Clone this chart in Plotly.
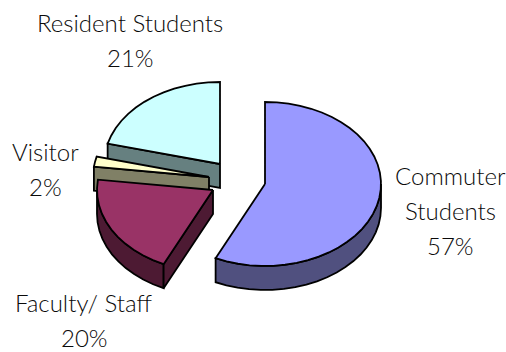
import numpy as np
import plotly.graph_objects as go

# Campus parking share by user group
categories = [["Commuter", "Students"], ["Faculty/ Staff"], ["Visitor"], ["Resident Students"]]
shares = [57, 20, 2, 21]
top_colors = ["#9999FF", "#993366", "#FFFFCC", "#CCFFFF"]
side_colors = ["#50507F", "#4D1A33", "#808066", "#668080"]

# Pixel layout of the exploded slices: apex of each top face, ellipse radii, extrusion depth
apexes = [(265, 184), (213, 190), (209, 177), (220, 164)]
label_anchors = [(450, 175), (84, 302), (45, 151), (130, 22)]
LINE_STEP = 35
RX, RY, DEPTH = 116, 82, 24
OUTLINE = dict(color="black", width=1.8)
FONT = dict(family="Lato Light, Lato", size=24, color="#0a0a0a", weight=300)


def rim(cx, cy, t0, t1):
    """Points on the slice rim between two clockwise angles measured from 12 o'clock."""
    count = max(2, int(abs(t1 - t0) / 6) + 2)
    t = np.radians(np.linspace(t0, t1, count))
    return cx + RX * np.sin(t), cy - RY * np.cos(t)


def face(fig, xs, ys, color):
    fig.add_trace(go.Scatter(x=xs, y=ys, mode="lines", fill="toself", fillcolor=color,
                             line=OUTLINE, hoverinfo="skip", showlegend=False))


fig = go.Figure()
edges = np.concatenate([[0], np.cumsum(shares)]) * 3.6

# Paint back to front: resident, visitor, faculty, commuter
for i in [3, 2, 1, 0]:
    start, end = edges[i], edges[i + 1]
    cx, cy = apexes[i]

    # Outer wall, only where the rim faces the viewer
    lo, hi = max(start, 90), min(end, 270)
    if hi > lo:
        ax, ay = rim(cx, cy, lo, hi)
        face(fig, np.r_[ax, ax[::-1], ax[0]], np.r_[ay, ay[::-1] + DEPTH, ay[0]], side_colors[i])

    # Radial wall along the leading edge of the slice
    if np.cos(np.radians(start - 90)) < -1e-6:
        ex, ey = rim(cx, cy, start, start)
        ex, ey = ex[0], ey[0]
        face(fig, [cx, ex, ex, cx, cx], [cy, ey, ey + DEPTH, cy + DEPTH, cy], side_colors[i])

    # Top face
    tx, ty = rim(cx, cy, start, end)
    face(fig, np.r_[cx, tx, cx], np.r_[cy, ty, cy], top_colors[i])

# Each label line is placed on its own so the leading stays loose
annotations = []
for lines, value, (x, y) in zip(categories, shares, label_anchors):
    for row, text in enumerate(lines + [f"{value}%"]):
        annotations.append(dict(x=x, y=y + row * LINE_STEP, xref="x", yref="y", text=text,
                                showarrow=False, font=FONT, xanchor="center", yanchor="middle"))

fig.update_layout(
    width=506, height=352, margin=dict(l=0, r=0, t=0, b=0),
    paper_bgcolor="white", plot_bgcolor="white", annotations=annotations,
    xaxis=dict(range=[0, 506], visible=False, fixedrange=True),
    yaxis=dict(range=[352, 0], visible=False, fixedrange=True),
)
fig.write_html("out.html", config=dict(displayModeBar=False))
